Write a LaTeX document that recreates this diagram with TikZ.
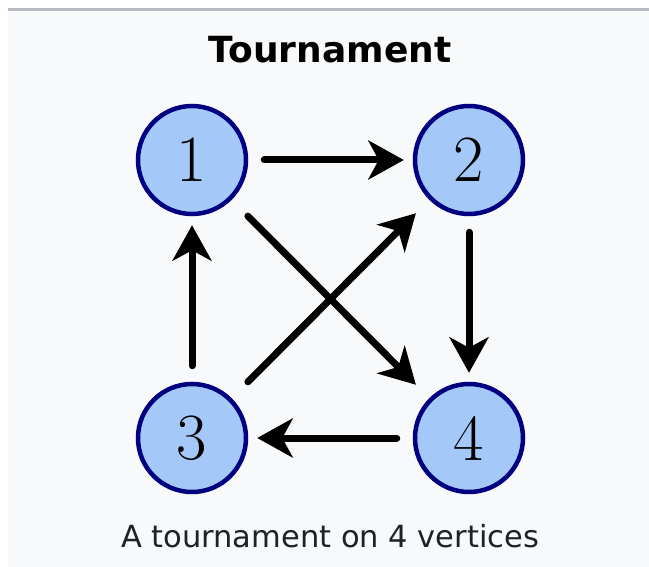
\documentclass[tikz,border=0pt]{standalone}
\usepackage{fontspec}
\usepackage{tikz}
\usepackage{xcolor}
\usetikzlibrary{arrows.meta}
\newfontfamily\dejavu{DejaVu Sans}
\definecolor{mypanel}{HTML}{F8F9FA}
\definecolor{myrule}{HTML}{B9BDC3}
\definecolor{myfill}{HTML}{A4C9F8}
\definecolor{myedge}{HTML}{000080}
\definecolor{mytext}{HTML}{202122}

\begin{document}
\begin{tikzpicture}[x=1pt, y=-1pt,
    vertex/.style={circle, minimum size=108pt, inner sep=0pt, line width=4.5pt, draw=myedge, fill=myfill, font=\fontsize{66}{66}\selectfont},
    arc/.style={line width=7pt, line cap=round, -{Stealth[length=36pt, width=40pt, inset=11pt, line width=0pt]}, shorten <=16pt, shorten >=9pt},
    cross/.style={arc, shorten <=23pt, shorten >=19pt}]
    \useasboundingbox (0, 0) rectangle (649, 567);
    \fill[white] (0, 0) rectangle (649, 567);
    \fill[mypanel] (8, 8) rectangle (649, 567);
    \fill[myrule] (8, 8) rectangle (649, 11);
    \node[font=\dejavu\bfseries\fontsize{36}{36}\selectfont, anchor=base] (title) at (330, 63) {Tournament};
    \node[vertex] (1) at (192, 160) {1};
    \node[vertex] (2) at (469, 160) {2};
    \node[vertex] (3) at (192, 438) {3};
    \node[vertex] (4) at (469, 438) {4};
    \draw[arc] (1) -- (2);
    \draw[arc] (2) -- (4);
    \draw[arc] (4) -- (3);
    \draw[arc] (3) -- (1);
    \draw[cross] (1) -- (4);
    \draw[cross] (3) -- (2);
    \node[font=\dejavu\fontsize{30.5}{30.5}\selectfont, text=mytext, anchor=base] (caption) at (330, 547) {A tournament on 4 vertices};
\end{tikzpicture}
\end{document}
